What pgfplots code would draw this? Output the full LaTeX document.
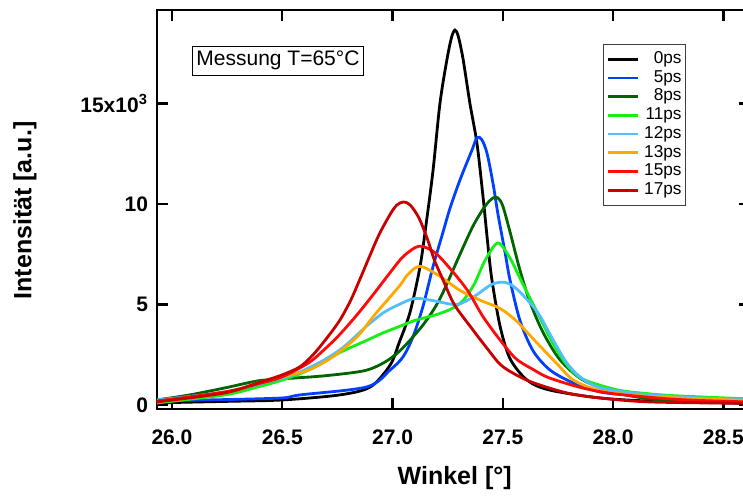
\documentclass[border=0pt]{standalone}
\usepackage{fontspec}
\setmainfont{Liberation Sans}
\usepackage{pgfplots}
\pgfplotsset{compat=1.18}
\usetikzlibrary{calc}
\definecolor{c5}{RGB}{0,64,255}
\definecolor{c8}{RGB}{0,100,0}
\definecolor{c11}{RGB}{20,240,20}
\definecolor{c12}{RGB}{80,190,255}
\definecolor{c13}{RGB}{255,168,0}
\definecolor{c15}{RGB}{255,10,10}
\definecolor{c17}{RGB}{200,0,0}
\begin{document}
\begin{tikzpicture}
\begin{axis}[
  scale only axis, width=296.5pt, height=199.5pt,
  xmin=25.932, xmax=28.621, ymin=-0.2, ymax=19.65,
  axis line style={line width=1.3pt},
  tick style={line width=1.2pt, black},
  major tick length=5.5pt,
  tick align=inside, tick pos=both,
  xtick={26,26.5,27,27.5,28,28.5},
  ytick={0,5,10,15},
  yticklabels={0,5,10,15x10\textsuperscript{3}},
  x tick label style={/pgf/number format/fixed, /pgf/number format/fixed zerofill,
    /pgf/number format/precision=1, /pgf/number format/assume math mode=true},
  ticklabel style={font=\fontsize{10.5}{12}\selectfont\bfseries},
  xticklabel style={yshift=-7pt},
  yticklabel style={xshift=-1pt},
  xlabel={Winkel [°]}, ylabel={Intensität [a.u.]},
  label style={font=\fontsize{12.5}{14}\selectfont\bfseries},
  xlabel style={at={(axis description cs:0.502,-0.173)}, anchor=center},
  ylabel style={at={(axis description cs:-0.2226,0.4975)}, anchor=center},
  every axis plot/.append style={line width=1.4pt, smooth},
  legend cell align=right,
  legend image code/.code={\draw[#1] (0pt,0pt) -- (15pt,0pt);},
  legend style={at={(0.752,0.915)}, anchor=north west, draw=black!75, line width=0.5pt,
    font=\fontsize{8.6}{9}\selectfont, inner xsep=1.5pt, inner ysep=3pt,
    nodes={inner sep=0.5pt, text height=6pt, text depth=1.8pt},
    column sep=2pt, row sep=0.56pt},
]
% 0ps
\addplot[black] coordinates {
(25.93,0.08)(26.00,0.12)(26.25,0.18)(26.50,0.25)(26.76,0.50)(26.90,0.90)(26.99,2.0)(27.03,3.1)
(27.079,4.6)(27.125,6.9)(27.156,9.3)(27.184,11.7)(27.215,15.0)(27.247,17.2)(27.268,18.3)(27.283,18.65)
(27.298,18.35)(27.32,17.2)(27.351,15.0)(27.383,13.0)(27.41,10.4)(27.433,7.9)(27.451,6.2)(27.488,3.9)
(27.533,2.3)(27.61,1.24)(27.71,0.75)(27.94,0.35)(28.2,0.18)(28.62,0.08)};
\addlegendentry{0ps}
% 5ps
\addplot[c5] coordinates {
(25.93,0.2)(26.0,0.22)(26.25,0.27)(26.5,0.35)(26.58,0.5)(26.884,0.9)(26.989,1.74)(27.048,2.4)
(27.093,3.4)(27.138,4.9)(27.184,6.9)(27.229,8.6)(27.261,9.8)(27.306,11.2)(27.361,12.7)(27.383,13.3)
(27.405,13.2)(27.429,12.5)(27.456,11.0)(27.478,9.5)(27.51,7.6)(27.533,6.2)(27.578,4.2)(27.637,2.7)
(27.714,1.74)(27.819,1.1)(27.941,0.65)(28.077,0.5)(28.304,0.4)(28.62,0.25)};
\addlegendentry{5ps}
% 8ps
\addplot[c8] coordinates {
(25.93,0.25)(26.08,0.5)(26.24,0.85)(26.39,1.2)(26.5,1.3)(26.69,1.45)(26.87,1.7)(26.96,2.1)
(27.034,2.7)(27.125,3.8)(27.184,4.7)(27.229,5.6)(27.306,7.5)(27.365,8.9)(27.42,9.9)(27.456,10.3)
(27.478,10.3)(27.5,9.9)(27.533,8.6)(27.578,6.7)(27.624,5.1)(27.683,3.6)(27.76,2.24)(27.864,1.24)
(28.018,0.6)(28.168,0.3)(28.304,0.18)(28.62,0.1)};
\addlegendentry{8ps}
% 11ps
\addplot[c11] coordinates {
(25.93,0.1)(26.24,0.5)(26.39,0.9)(26.5,1.24)(26.62,1.74)(26.76,2.6)(26.88,3.2)(26.96,3.6)
(27.03,3.9)(27.1,4.2)(27.2,4.5)(27.27,4.8)(27.32,5.2)(27.37,6.0)(27.42,7.2)(27.478,8.06)
(27.533,7.3)(27.578,6.3)(27.624,5.3)(27.67,4.3)(27.73,3.0)(27.79,2.0)(27.86,1.3)(28.02,0.75)
(28.17,0.55)(28.3,0.45)(28.62,0.3)};
\addlegendentry{11ps}
% 12ps
\addplot[c12] coordinates {
(25.93,0.25)(26.24,0.65)(26.5,1.34)(26.58,1.64)(26.69,2.24)(26.78,2.9)(26.88,3.9)(26.96,4.6)
(27.03,5.0)(27.1,5.3)(27.18,5.2)(27.29,5.0)(27.37,5.4)(27.45,6.0)(27.51,6.1)(27.56,5.8)
(27.63,5.0)(27.67,4.4)(27.73,3.2)(27.79,2.1)(27.85,1.4)(27.93,0.9)(28.08,0.6)(28.3,0.4)(28.62,0.25)};
\addlegendentry{12ps}
% 13ps
\addplot[c13] coordinates {
(25.93,0.15)(26.24,0.6)(26.39,1.1)(26.5,1.4)(26.62,1.74)(26.73,2.4)(26.84,3.4)(26.92,4.5)
(27.03,5.9)(27.07,6.5)(27.125,6.9)(27.215,6.4)(27.306,5.7)(27.4,5.2)(27.488,4.8)(27.56,4.2)
(27.62,3.5)(27.68,2.8)(27.75,2.0)(27.82,1.24)(27.93,0.75)(28.08,0.5)(28.3,0.35)(28.62,0.22)};
\addlegendentry{13ps}
% 15ps
\addplot[c15] coordinates {
(25.93,0.2)(26.24,0.65)(26.39,1.05)(26.5,1.4)(26.62,2.1)(26.69,2.75)(26.76,3.5)(26.84,4.5)
(26.92,5.6)(26.99,6.6)(27.05,7.4)(27.12,7.9)(27.19,7.6)(27.26,6.8)(27.34,5.7)(27.41,4.4)
(27.49,3.2)(27.56,2.3)(27.64,1.75)(27.71,1.35)(27.86,0.85)(28.01,0.55)(28.3,0.27)(28.62,0.15)};
\addlegendentry{15ps}
% 17ps
\addplot[c17] coordinates {
(25.93,0.15)(26.24,0.6)(26.39,1.1)(26.5,1.5)(26.58,1.9)(26.64,2.5)(26.70,3.3)(26.76,4.2)
(26.81,5.2)(26.85,6.2)(26.90,7.5)(26.94,8.5)(26.99,9.5)(27.02,9.95)(27.05,10.1)(27.08,9.95)
(27.12,9.3)(27.16,8.2)(27.19,7.2)(27.23,6.2)(27.28,5.0)(27.36,3.8)(27.43,2.8)(27.49,2.0)
(27.56,1.5)(27.64,1.1)(27.79,0.6)(27.94,0.35)(28.17,0.15)(28.62,0.08)};
\addlegendentry{17ps}
\node[draw, line width=0.5pt, inner xsep=2pt, inner ysep=2.5pt, font=\fontsize{10.5}{12}\selectfont]
  at (axis description cs:0.204,0.873) {Messung T=65°C};
\coordinate (sw) at (rel axis cs:0,0);
\coordinate (ne) at (rel axis cs:1,1);
\end{axis}
\pgfresetboundingbox
\useasboundingbox ($(sw)+(-78.5pt,-44pt)$) rectangle ($(ne)+(-3.5pt,5pt)$);
\end{tikzpicture}
\end{document}
